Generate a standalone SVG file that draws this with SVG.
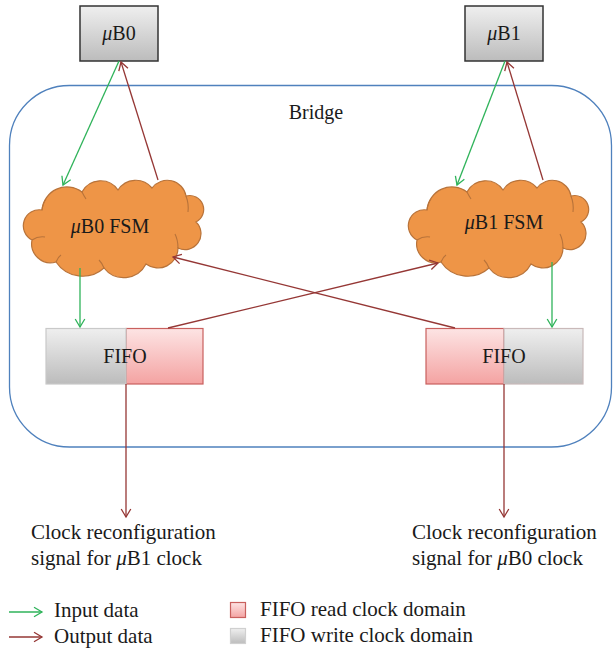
<svg xmlns="http://www.w3.org/2000/svg" xmlns:xlink="http://www.w3.org/1999/xlink" width="613" height="650" viewBox="0 0 613 650">
  <style>
    text { font-family: "Liberation Serif", "Times New Roman", serif; fill: #1a1a1a; }
    .node { font-size: 20px; text-anchor: middle; }
    .lbl { font-size: 21px; }
    .mu { font-style: italic; }
    .in { stroke: #2fb35a; stroke-width: 1.3; fill: none; }
    .out { stroke: #953735; stroke-width: 1.3; fill: none; }
    .cloud { fill: #ee9547; stroke: #b8733a; stroke-width: 1.2; }
    .cloud-detail { fill: none; stroke: #b8733a; stroke-width: 1.1; }
  </style>
  <defs>
    <linearGradient id="gGray" x1="0" y1="0" x2="0" y2="1">
      <stop offset="0" stop-color="#efefef"/>
      <stop offset="1" stop-color="#bcbcbc"/>
    </linearGradient>
    <linearGradient id="gPink" x1="0" y1="0" x2="0" y2="1">
      <stop offset="0" stop-color="#fde4e4"/>
      <stop offset="1" stop-color="#f4a3a2"/>
    </linearGradient>
    <marker id="arrIn" viewBox="-10 -6 12 12" refX="0" refY="0" markerWidth="12" markerHeight="12" markerUnits="userSpaceOnUse" orient="auto">
      <path d="M-8,-4.8 L0,0 L-8,4.8" fill="none" stroke="#2fb35a" stroke-width="1.3"/>
    </marker>
    <marker id="arrOut" viewBox="-10 -6 12 12" refX="0" refY="0" markerWidth="12" markerHeight="12" markerUnits="userSpaceOnUse" orient="auto">
      <path d="M-8,-4.8 L0,0 L-8,4.8" fill="none" stroke="#953735" stroke-width="1.3"/>
    </marker>
    <!-- cloud outline, drawn at the left FSM position -->
    <g id="cloudShape">
      <path class="cloud" d="M32,240 A16,16 0 0 1 42,210 A25,25 0 0 1 82,192 A21,21 0 0 1 118,190 A21,21 0 0 1 152,188 A19,19 0 0 1 186,196 A14,14 0 0 1 196,222 A16,16 0 0 1 178,248 A20,20 0 0 1 146,264 A25,25 0 0 1 104,268 A32,32 0 0 1 56,262 A19,19 0 0 1 32,240 Z"/>
      <path class="cloud-detail" d="M32,240 Q38,236 45,237"/>
      <path class="cloud-detail" d="M42,210 Q43,203 46,199"/>
      <path class="cloud-detail" d="M82,192 Q84,196 86,199"/>
      <path class="cloud-detail" d="M186,196 Q189,204 188,212"/>
      <path class="cloud-detail" d="M178,248 Q178,240 175,234"/>
      <path class="cloud-detail" d="M104,268 Q102,263 99,260"/>
      <path class="cloud-detail" d="M56,262 Q58,257 61,255"/>
    </g>
  </defs>

  <rect width="613" height="650" fill="#ffffff"/>

  <!-- bridge container -->
  <g id="bridge">
    <rect x="9.5" y="85.5" width="602" height="361.5" rx="60" ry="60" fill="none" stroke="#4f81bd" stroke-width="1.3"/>
    <text class="node" x="316" y="119">Bridge</text>
  </g>

  <!-- processors -->
  <g id="uB0">
    <rect x="80" y="6" width="78" height="55" fill="url(#gGray)" stroke="#333333" stroke-width="1.5"/>
    <text class="node" x="119" y="40"><tspan class="mu">μ</tspan>B0</text>
  </g>
  <g id="uB1">
    <rect x="465" y="6" width="78" height="55" fill="url(#gGray)" stroke="#333333" stroke-width="1.5"/>
    <text class="node" x="504" y="40"><tspan class="mu">μ</tspan>B1</text>
  </g>

  <!-- state machines -->
  <g id="fsm0">
    <use xlink:href="#cloudShape"/>
    <text class="node" x="110" y="233"><tspan class="mu">μ</tspan>B0 FSM</text>
  </g>
  <g id="fsm1">
    <use xlink:href="#cloudShape" transform="translate(385,0)"/>
    <text class="node" x="504" y="229"><tspan class="mu">μ</tspan>B1 FSM</text>
  </g>

  <!-- FIFOs: read domain pink, write domain grey drawn over the shared edge -->
  <g id="fifo0">
    <rect x="126" y="328.5" width="77" height="55.5" fill="url(#gPink)" stroke="#c9605e" stroke-width="1.2"/>
    <rect x="46" y="328.5" width="80" height="55.5" fill="url(#gGray)" stroke="#c9c9c9" stroke-width="1.2"/>
    <text class="node" x="125" y="363">FIFO</text>
  </g>
  <g id="fifo1">
    <rect x="426" y="328.5" width="78" height="55.5" fill="url(#gPink)" stroke="#c9605e" stroke-width="1.2"/>
    <rect x="504" y="328.5" width="79" height="55.5" fill="url(#gGray)" stroke="#c9b9b9" stroke-width="1.2"/>
    <text class="node" x="504" y="363">FIFO</text>
  </g>

  <!-- connectors -->
  <g id="connectors">
    <line class="in" x1="119" y1="61" x2="63" y2="185" marker-end="url(#arrIn)"/>
    <line class="out" x1="158" y1="180" x2="121" y2="62" marker-end="url(#arrOut)"/>
    <line class="in" x1="505" y1="61" x2="457" y2="185" marker-end="url(#arrIn)"/>
    <line class="out" x1="543" y1="180" x2="507" y2="62" marker-end="url(#arrOut)"/>
    <line class="in" x1="80" y1="268" x2="80" y2="327" marker-end="url(#arrIn)"/>
    <line class="in" x1="552" y1="262" x2="552" y2="327" marker-end="url(#arrIn)"/>
    <line class="out" x1="168" y1="328" x2="438" y2="263" marker-end="url(#arrOut)"/>
    <line class="out" x1="455" y1="328" x2="173" y2="257" marker-end="url(#arrOut)"/>
    <line class="out" x1="126" y1="384" x2="126" y2="517" marker-end="url(#arrOut)"/>
    <line class="out" x1="504" y1="384" x2="504" y2="517" marker-end="url(#arrOut)"/>
  </g>

  <!-- clock reconfiguration outputs -->
  <g id="clk1label">
    <text class="lbl" x="31" y="539">Clock reconfiguration</text>
    <text class="lbl" x="31" y="565">signal for <tspan class="mu">μ</tspan>B1 clock</text>
  </g>
  <g id="clk0label">
    <text class="lbl" x="412" y="539">Clock reconfiguration</text>
    <text class="lbl" x="412" y="565">signal for <tspan class="mu">μ</tspan>B0 clock</text>
  </g>

  <!-- legend -->
  <g id="legend">
    <line class="in" x1="9" y1="612" x2="42" y2="612" marker-end="url(#arrIn)"/>
    <text class="lbl" x="54" y="617">Input data</text>
    <line class="out" x1="9" y1="637" x2="42" y2="637" marker-end="url(#arrOut)"/>
    <text class="lbl" x="54" y="643">Output data</text>
    <rect x="230.5" y="602.5" width="15" height="15" fill="url(#gPink)" stroke="#c9605e" stroke-width="1.2"/>
    <text class="lbl" x="260" y="616">FIFO read clock domain</text>
    <rect x="230.5" y="628.5" width="15" height="15" fill="url(#gGray)" stroke="#d0d0d0" stroke-width="1.2"/>
    <text class="lbl" x="260" y="642">FIFO write clock domain</text>
  </g>
</svg>
